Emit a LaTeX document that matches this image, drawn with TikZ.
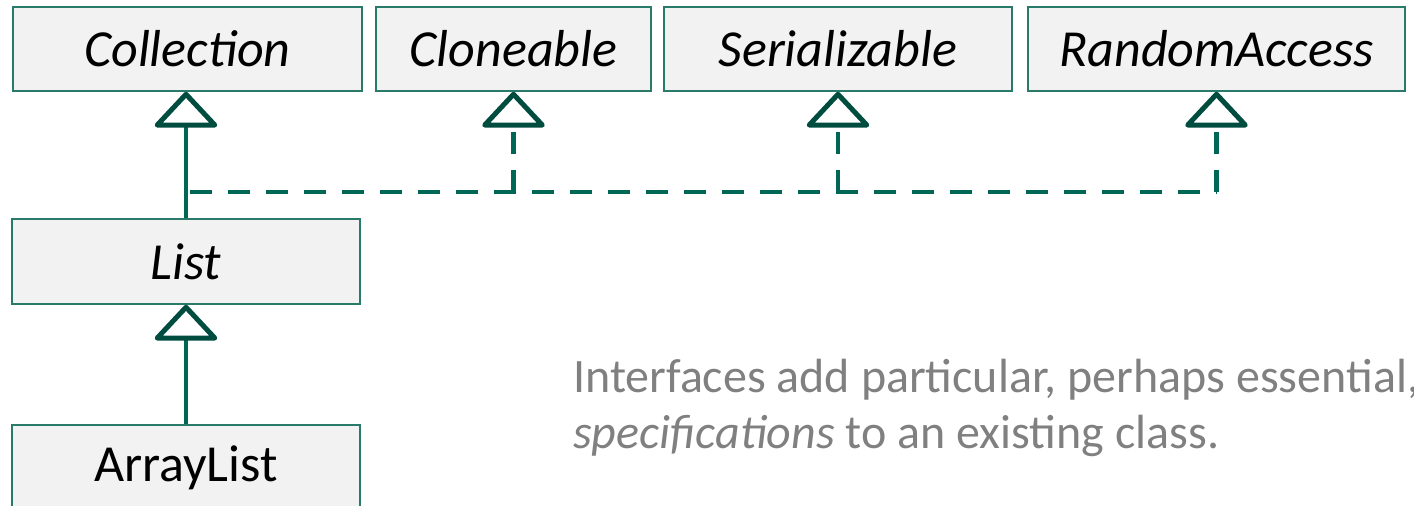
\documentclass[tikz,border=0pt]{standalone}
\usepackage{fontspec}
\setmainfont{Carlito}
\usetikzlibrary{arrows.meta}
\definecolor{boxfill}{HTML}{F2F2F2}
\definecolor{boxline}{HTML}{2A7A6A}
\definecolor{conn}{HTML}{006655}
\definecolor{tri}{HTML}{004D40}
\definecolor{captext}{HTML}{808080}
\begin{document}
\begin{tikzpicture}[x=1pt,y=-1pt,
  umlbox/.style={draw=boxline, line width=1.5pt, fill=boxfill, minimum height=84pt,
    inner sep=0pt, font=\fontsize{52}{60}\selectfont\itshape},
  classbox/.style={umlbox, font=\fontsize{52}{60}\selectfont},
  gentip/.style={-{Triangle[open, round, length=37pt, width=68pt, line width=5pt, color=tri]}},
  inherit/.style={draw=conn, line width=4pt, gentip},
  realize/.style={draw=conn, line width=4.5pt, dash pattern=on 22pt off 16pt},
  realizearrow/.style={realize, gentip},
  caption/.style={anchor=base west, align=left, inner sep=0pt, text=captext,
    font=\fontsize{48}{56}\selectfont}]
\useasboundingbox (0,0) rectangle (1414,506);
\clip (0,0) rectangle (1414,506);

\node[umlbox, minimum width=349pt] (coll) at (187.5,49) {Collection};
\node[umlbox, minimum width=275pt] (clone) at (513.5,49) {Cloneable};
\node[umlbox, minimum width=348pt] (ser) at (838,49) {Serializable};
\node[umlbox, minimum width=377pt] (ra) at (1216.5,49) {RandomAccess};
\node[umlbox, minimum width=348pt, minimum height=85pt] (list) at (186,261.5) {List};
\node[classbox, minimum width=348pt, minimum height=85pt] (al) at (186,467.5) {ArrayList};

\draw[inherit] (list.north) -- (list.north |- coll.south);
\draw[inherit] (al.north) -- (list.south);

\coordinate (j) at (190,192);
\coordinate (jend) at (ra.south |- j);
\draw[realize] (j) -- (jend);
\coordinate (jc) at (clone.south |- j);
\coordinate (js) at (ser.south |- j);
\draw[realizearrow] (jc) -- (clone.south);
\draw[realizearrow] (js) -- (ser.south);
\draw[realizearrow] (jend) -- (ra.south);

\node[caption] (cap) at (573,448) {Interfaces add particular, perhaps essential,\\\textit{specifications} to an existing class.};
\end{tikzpicture}
\end{document}
